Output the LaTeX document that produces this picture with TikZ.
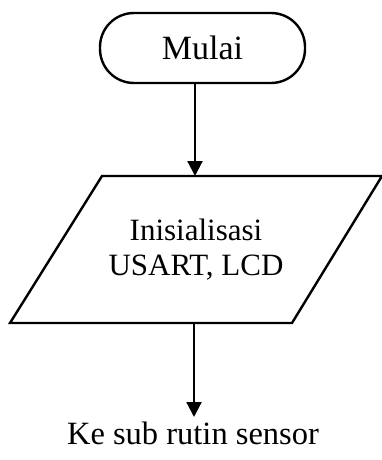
\documentclass[tikz,border=0pt]{standalone}
\usepackage{fontspec}
\setmainfont{Liberation Serif}
\usetikzlibrary{arrows.meta}

\begin{document}
\begin{tikzpicture}[x=1pt, y=1pt,
		box/.style={draw=black, line width=2.4pt},
		flow/.style={-{Triangle[length=15pt, width=15pt]}, line width=2.2pt},
		txt/.style={font=\fontsize{31}{35}\selectfont, align=center}]
		
		\useasboundingbox (0, 0) rectangle (382, -460);
		
		% Terminal
		\node[box, txt, font=\fontsize{34}{38}\selectfont, rounded corners=34pt, minimum width=205pt, minimum height=70pt] (mulai) at (202.5, -48) {Mulai};
		
		% Input / output
		\draw[box] (102, -176) -- (382, -176) -- (292, -323) -- (10, -323) -- cycle;
		\node[txt] (init) at (196, -250) {Inisialisasi\\USART, LCD};
		\coordinate (initTop) at (195, -176);
		\coordinate (initBot) at (194, -323);
		
		% Off-page
		\node[txt, font=\fontsize{32.5}{36}\selectfont, anchor=north, inner sep=0pt, text height=27pt] (ke) at (193, -417) {Ke sub rutin sensor};
		
		% Connect
		\draw[flow] (mulai.south -| initTop) -- (initTop);
		\draw[flow] (initBot) -- (ke.north -| initBot);
		
	\end{tikzpicture}
\end{document}
